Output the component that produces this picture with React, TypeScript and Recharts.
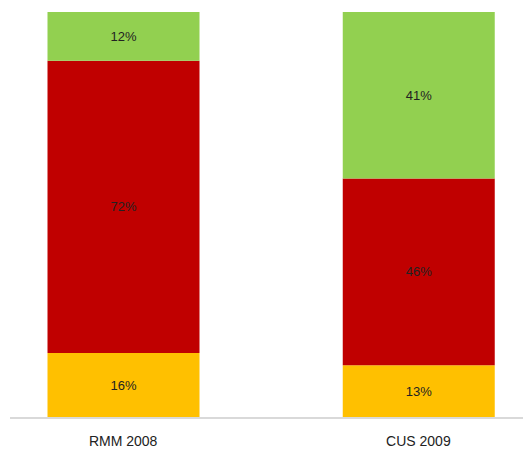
import { BarChart, Bar, XAxis, YAxis, LabelList } from "recharts";

const categories = ["RMM 2008", "CUS 2009"];
const yellowValues = [16, 13];
const redValues = [72, 46];
const greenValues = [12, 41];

const seriesColors = {
  yellow: "#FFC000",
  red: "#C00000",
  green: "#92D050",
};

const chartData = categories.map((name, i) => ({
  name,
  yellow: yellowValues[i],
  red: redValues[i],
  green: greenValues[i],
}));

const fmt = (v: any) => `${v}%`;

export default function App() {
  return (
    <div style={{ margin: "-8px 0 0 -8px", fontFamily: "'Liberation Sans', sans-serif" }}>
      <BarChart
        width={531}
        height={452}
        data={chartData}
        margin={{ top: 12, right: 0, bottom: 4, left: 10 }}
        barSize={152}
      >
        <XAxis
          dataKey="name"
          padding={{ left: -34.5, right: -35 }}
          axisLine={{ stroke: "#d9d9d9", strokeWidth: 2 }}
          tickLine={false}
          height={30}
          tick={{ fill: "#222", fontSize: 14 }}
          tickMargin={12}
        />
        <YAxis hide domain={[0, 100]} />
        {(["yellow", "red", "green"] as const).map((key) => (
          <Bar
            key={key}
            dataKey={key}
            stackId="a"
            fill={seriesColors[key]}
            isAnimationActive={false}
          >
            <LabelList
              dataKey={key}
              position="center"
              formatter={fmt}
              fill="#222"
              fontSize={13}
            />
          </Bar>
        ))}
      </BarChart>
    </div>
  );
}
